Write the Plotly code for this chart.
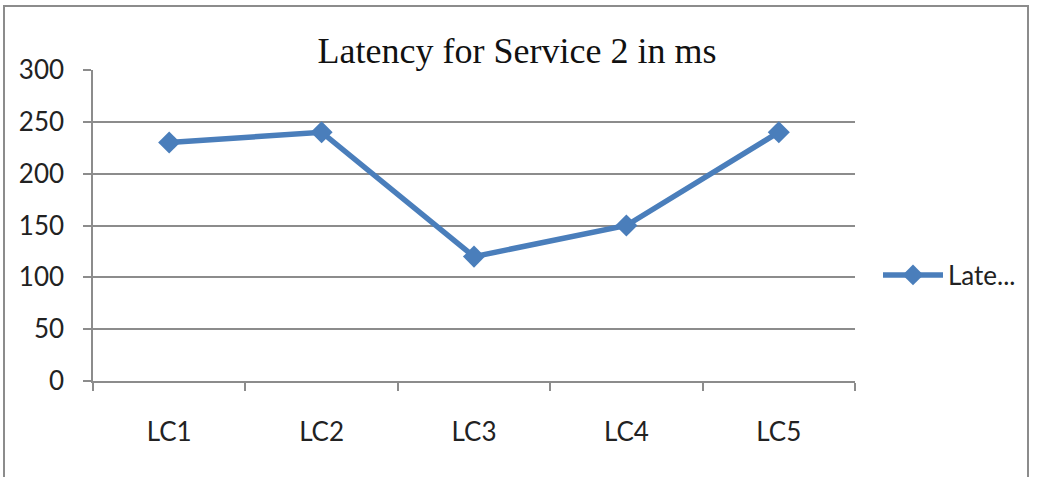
import plotly.graph_objects as go

categories = ["LC1", "LC2", "LC3", "LC4", "LC5"]
latency = [230, 240, 120, 150, 240]
y_ticks = [0, 50, 100, 150, 200, 250, 300]
title_text = "Latency for Service 2 in ms"
legend_name = "Late..."

W, H = 1037, 477
L, R, T, B = 93, 1037 - 855, 70, 477 - 381
pw, ph = W - L - R, H - T - B

grey = "#8c8c8c"
blue = "#4a7ebb"
tick_font = dict(family="Lato", size=26, color="#222")

fig = go.Figure()
fig.add_trace(go.Scatter(
    x=categories, y=latency, mode="lines+markers", name=legend_name,
    line=dict(color=blue, width=5.5),
    marker=dict(symbol="diamond", size=17, color=blue),
))

fig.update_layout(
    width=W, height=H,
    margin=dict(l=L, r=R, t=T, b=B, autoexpand=False),
    paper_bgcolor="white", plot_bgcolor="white",
    title=dict(text=title_text, x=517 / W, xanchor="center",
               y=1 - 50 / H, yanchor="middle",
               font=dict(family="Liberation Serif", size=36, color="#111")),
    showlegend=True,
    legend=dict(x=(878 - L) / pw, y=(381 - 275) / ph, xanchor="left", yanchor="middle",
                font=tick_font, bgcolor="rgba(0,0,0,0)", itemwidth=60),
    font=tick_font,
)

fig.update_xaxes(
    type="category", tickson="boundaries", ticks="outside", ticklen=8,
    tickcolor=grey, tickwidth=1.5, showline=True, linecolor=grey, linewidth=1.5,
    showgrid=False, ticklabelstandoff=27, tickfont=tick_font,
    range=[-0.5, 4.5],
)
fig.update_yaxes(
    range=[0, 300], tickvals=y_ticks, ticks="outside", ticklen=8,
    tickcolor=grey, tickwidth=1.5, showline=True, linecolor=grey, linewidth=1.5,
    showgrid=True, gridcolor=grey, gridwidth=1.5, zeroline=False,
    ticklabelstandoff=14, tickfont=tick_font,
)

# outer chart border
fig.add_shape(type="rect", xref="paper", yref="paper",
              x0=(4 - L) / pw, x1=(1028 - L) / pw,
              y0=(381 - 490) / ph, y1=(381 - 6) / ph,
              line=dict(color=grey, width=2), fillcolor="rgba(0,0,0,0)", layer="below")

fig.write_html("out.html")
